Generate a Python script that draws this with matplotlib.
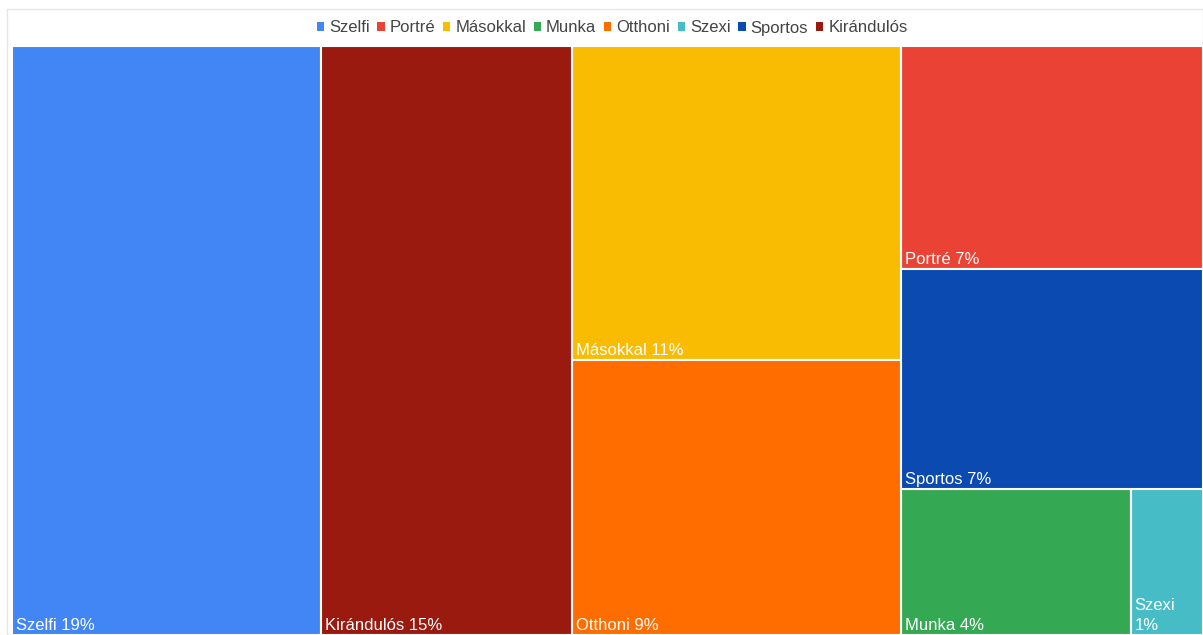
import matplotlib
matplotlib.use("Agg")
import matplotlib.pyplot as plt
from matplotlib.patches import Rectangle

plt.rcParams['font.family'] = ['Liberation Sans', 'DejaVu Sans']

categories = ["Szelfi", "Portré", "Másokkal", "Munka", "Otthoni", "Szexi", "Sportos", "Kirándulós"]
values = [18.9, 7.0, 10.7, 3.5, 9.4, 1.1, 6.9, 15.4]
labels = ["Szelfi 19%", "Portré 7%", "Másokkal 11%", "Munka 4%", "Otthoni 9%", "Szexi\n1%", "Sportos 7%", "Kirándulós 15%"]
colors = ["#4285F4", "#EA4335", "#F9BC02", "#34A853", "#FF6D01", "#46BDC6", "#0B4AB0", "#9A1A10"]

# Layout structure: columns (left to right), each a list of stacked items (top to bottom);
# a tuple inside a column is a horizontal row of items.
layout = [["Szelfi"], ["Kirándulós"], ["Másokkal", "Otthoni"], ["Portré", "Sportos", ("Munka", "Szexi")]]

val = dict(zip(categories, values))
lab = dict(zip(categories, labels))
col = dict(zip(categories, colors))

def item_sum(it):
    if isinstance(it, tuple):
        return sum(val[c] for c in it)
    return val[it]

W, H = 1191.0, 589.0
total = sum(values)
rects = {}
x = 0.0
for column in layout:
    csum = sum(item_sum(it) for it in column)
    cw = W * csum / total
    ytop = H
    for it in column:
        h = H * item_sum(it) / csum
        if isinstance(it, tuple):
            xx = x
            s = item_sum(it)
            for c in it:
                w = cw * val[c] / s
                rects[c] = (xx, ytop - h, w, h)
                xx += w
        else:
            rects[it] = (x, ytop - h, cw, h)
        ytop -= h
    x += cw

fig = plt.figure(figsize=(12.03, 6.35), dpi=100)
# outer frame
fig.patches.append(Rectangle((7/1203, 0), 1 - 7/1203, 1 - 9/635, transform=fig.transFigure,
                             fill=False, edgecolor="#E6E6E6", linewidth=1))
ax = fig.add_axes([12/1203, 0, 1191/1203, 589/635])
ax.set_xlim(0, W)
ax.set_ylim(0, H)
ax.axis('off')

for c in categories:
    x0, y0, w, h = rects[c]
    ax.add_patch(Rectangle((x0, y0), w, h, facecolor=col[c], edgecolor="white", linewidth=1.5))
    ax.text(x0 + 4, y0 + 2, lab[c], color="white", fontsize=12, ha="left", va="bottom",
            linespacing=1.45)

# legend
handles = [Rectangle((0, 0), 1, 1, facecolor=col[c]) for c in categories]
fig.legend(handles, categories, loc="center", bbox_to_anchor=(612/1203, 1 - 28/635), ncol=8,
           frameon=False, fontsize=12, handlelength=0.45, handleheight=0.45, handletextpad=0.3,
           columnspacing=0.45, labelcolor="#444444")

fig.savefig("out.png", dpi=100)
